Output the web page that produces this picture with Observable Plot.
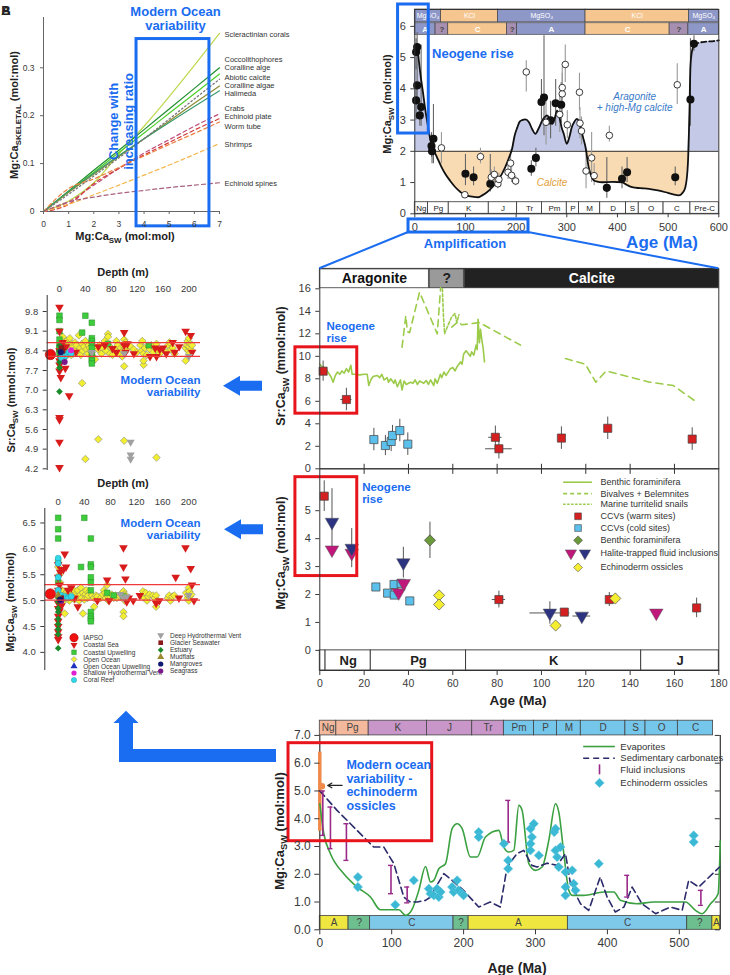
<!DOCTYPE html>
<html><head><meta charset="utf-8">
<script src="https://cdn.jsdelivr.net/npm/d3@7"></script>
<script src="https://cdn.jsdelivr.net/npm/@observablehq/plot@0.6"></script>
<style>
body{margin:0;background:#fff;}
#page{position:relative;width:730px;height:975px;overflow:hidden;font-family:"Liberation Sans",Arial,Helvetica,sans-serif;}
</style></head><body><div id="page"></div>
<script>
const BLUE="#1a6cf0", RED="#e8141b", FONT="Liberation Sans, Arial, Helvetica, sans-serif";
const page=document.getElementById("page");
function place(svg,l,t){svg.style.position="absolute";svg.style.left=l+"px";svg.style.top=t+"px";svg.style.overflow="visible";svg.style.background="transparent";svg.style.fontFamily=FONT;svg.style.color="#3a3a3a";svg.style.maxWidth="none";page.appendChild(svg);}
const triDown={draw(ctx,size){const y=-Math.sqrt(size/(Math.sqrt(3)*3));ctx.moveTo(0,-y*2);ctx.lineTo(-Math.sqrt(3)*y,y);ctx.lineTo(Math.sqrt(3)*y,y);ctx.closePath();}};
const intFmt=d=>String(d);

// ---------------- Panel A data ----------------
const aXs=[0,1,2,3,4,5,6,7];
const aNames=["Scleractinian corals","Coccolithophores","Coralline alge","Abiotic calcite","Coralline algae","Halimeda","Crabs","Echinoid plate","Worm tube","Shrimps","Echinoid spines"];
const aColors=["#bcd84c","#1f8f2e","#4ccf2a","#777777","#8f8a35","#3b9a6e","#c0507a","#d23a3a","#ea8040","#f2b64a","#a8607e"];
const aDash=["solid","solid","solid","dot","solid","solid","dash","dash","dash","dash","dash"];
const aValues=[
 [0,0.022,0.06,0.12,0.178,0.24,0.305,0.372],
 [0,0.043,0.086,0.128,0.171,0.214,0.257,0.300],
 [0,0.041,0.082,0.123,0.164,0.205,0.246,0.287],
 [0,0.036,0.074,0.112,0.152,0.193,0.235,0.276],
 [0,0.040,0.078,0.115,0.152,0.189,0.226,0.262],
 [0,0.042,0.080,0.117,0.152,0.186,0.219,0.252],
 [0,0.020,0.055,0.090,0.122,0.150,0.178,0.204],
 [0,0.015,0.058,0.090,0.118,0.144,0.170,0.194],
 [0,0.048,0.068,0.092,0.116,0.140,0.163,0.187],
 [0,0.015,0.035,0.055,0.076,0.097,0.119,0.142],
 [0,0.020,0.030,0.038,0.044,0.050,0.055,0.060]];
const aLabelY=[0.37,0.317,0.30,0.28,0.263,0.246,0.215,0.198,0.177,0.14,0.058];
const aYTicks=[0,0.1,0.2,0.3];

// ---------------- Panel B data ----------------
const saltStart=[0,52,164,337,541], saltEnd=[52,164,337,541,600], saltLabel=["MgSO₄","KCl","MgSO₄","KCl","MgSO₄"];
const minStart=[0,41,66,182,202,337,503,540], minEnd=[41,66,182,202,337,503,540,600], minLabel=["A","?","C","?","A","C","?","A"];
const perStart=[0,26,67,146,202,251,300,324,366,417,442,491,544], perEnd=[26,67,146,202,251,300,324,366,417,442,491,544,600];
const perLabel=["Ng","Pg","K","J","Tr","Pm","P","M","D","S","O","C","Pre-C"];
const bCurve=[[0,5.23],[2.5,5.34],[5,5.3],[8,4.9],[11,4.48],[16,3.9],[21,3.3],[26,2.8],[31,2.35],[37,2.05],[44,1.8],[52,1.52],[60,1.28],[70,1.05],[80,0.85],[90,0.7],[100,0.59],[113,0.55],[126,0.53],[133,0.59],[143,0.7],[153,0.85],[163,1.05],[172,1.28],[180,1.55],[186,1.8],[192,2.08],[197,2.5],[202,2.75],[207,2.95],[212,3.0],[218,3.02],[225,2.94],[232,2.7],[238,2.56],[245,2.75],[252,3.0],[258,3.12],[261,3.15],[266,3.05],[271,2.88],[276,3.05],[281,3.3],[286,3.05],[290,2.75],[294,2.56],[300,2.24],[305,2.45],[310,2.78],[315,2.95],[320,3.04],[324,2.95],[327,2.78],[332,2.45],[337,2.13],[343,1.5],[348,1.22],[353,1.07],[360,1.03],[370,1.01],[390,1.02],[409,1.01],[418,0.93],[429,0.85],[445,0.82],[462,0.8],[480,0.75],[495,0.69],[510,0.62],[521,0.59],[528,0.66],[534,0.85],[539,1.6],[542,3.2],[544,4.7],[547,5.2],[551,5.39]];
const bCurveDash=[[551,5.39],[560,5.47],[575,5.51],[590,5.53],[600,5.55]];
const bFilled=[[2.6,5.18,4.6,5.6],[4.6,5.34,4.8,5.8],[4.6,4.11,3.5,4.8],[2.6,3.63,3.0,4.2],[12.5,3.42,2.8,5.4],[9.9,3.15,2.8,3.6],[36.8,2.4,1.6,3.5],[33,2.17,1.8,2.6],[34,2.0,1.6,2.4],[100,1.28,0.9,1.9],[116,1.17,0.9,1.5],[149,0.96,0.7,1.9],[230,1.44,1.2,1.7],[239,1.79,1.5,2.1],[250,3.58,3.0,4.3],[255,3.72,2.5,5.7],[268,2.99,2.4,3.6],[278,3.54,2.8,4.3],[289,3.49,2.9,4.2],[379,0.83,0.5,1.8],[409,1.12,0.8,1.5],[419,1.33,1.0,1.8],[514,1.17,0.9,1.5],[544,3.66,2.8,5.6],[551,5.44,5.2,5.7]];
const bOpen=[[52.6,2.11,1.6,2.6],[98.7,0.61,0.5,0.7],[129.6,1.83,1.6,2.1],[151,1.17,0.9,1.4],[157,1.26,1.0,1.5],[164,0.96,0.8,1.2],[166,1.1,0.9,1.3],[184,1.33,1.1,1.6],[189,1.62,1.3,1.9],[191,1.23,1.0,1.5],[199,1.05,0.9,1.2],[220,4.54,3.9,4.9],[259,2.93,2.2,3.6],[286,3.18,2.6,3.8],[291,3.84,3.2,4.5],[291,4.04,3.4,4.7],[297,4.78,4.2,5.4],[301,2.85,2.4,3.3],[325,3.89,3.3,4.5],[326,2.9,2.4,3.4],[329,2.65,2.2,3.1],[349,1.79,1.0,2.6],[354,1.22,0.9,1.6],[338,1.37,0.8,1.9],[384,2.51,2.3,2.8],[518,4.13,3.5,4.8]];

// ---------------- Middle panels data ----------------
const midStart=[0,49.6,65.4], midEnd=[49.2,65,180], midLabel=["Aragonite","?","Calcite"];
const midPerStart=[0,2.6,23,66,145], midPerEnd=[2.6,23,66,145,180], midPerLabel=["","Ng","Pg","K","J"];
const srBenthic=[[0,9.3],[1,9.1],[2,9.0],[3,8.8],[4,8.5],[5,8.2],[6,7.7],[7,8.3],[8,8.6],[9,8.4],[10,8.7],[11,8.5],[12,8.9],[13,8.6],[14,9.2],[14.6,8.4],[16,8.4],[18,8.35],[20,8.4],[21.4,8.4],[22.1,7.4],[23,7.9],[24,8.2],[25.9,8.3],[27,8.1],[28,8.4],[29,7.9],[30.4,8.1],[31,7.7],[32,8.0],[33.4,7.6],[34,7.9],[35,7.3],[36.4,7.9],[37.1,7.0],[38,7.8],[39,7.5],[40.9,7.7],[42,7.6],[43,7.9],[44,7.5],[45,7.8],[46.9,7.6],[48,7.85],[49,7.5],[50,7.9],[51.4,7.4],[52,8.0],[53,7.6],[54.4,8.4],[55,8.1],[56,8.6],[57,8.3],[58.9,8.9],[60,9.0],[61,8.7],[62,9.1],[63.5,9.5],[64.2,9.3],[64.9,10.2],[66,10.5],[67.9,10.0],[68.5,10.4],[69.5,10.1],[70.5,11.0],[71,10.6],[71.4,13.3],[72,11.2],[72.5,12.4],[73,11.6],[73.7,10.7],[74.3,9.5]];
const srBivalves=[[37.1,10.8,1],[38.8,13.6,1],[39.5,12.2,1],[40.5,12.1,1],[45,15.7,1],[53,12.0,1],[54.5,16.1,1],[59.5,12.6,2],[62.5,13.1,2],[64,12.8,2],[72,13.0,2],[90.5,11.0,2],[110.8,9.8,3],[119.8,9.3,3],[124.5,7.7,3],[129.2,8.7,3],[149,7.7,3],[159.5,7.4,3],[170.2,5.9,3]];
const srTurritelid=[[55.3,16.0],[55.8,13.5],[56.3,12.0],[57.5,12.6],[59.5,13.5],[61,13.8],[61.8,13.0],[62.8,13.7]];
const srWarm=[[1.5,8.68,0,0.9],[12,6.16,2.5,1.0],[79.2,2.8,3,1.0],[80.8,1.78,6,0.9],[109,2.73,0,1.0],[129.9,3.6,0,1.0],[168,2.64,0,1.0]];
const srCold=[[24.4,2.6,0,1.0],[29.6,2.07,0,0.9],[32.2,2.43,0,0.9],[32.8,2.96,0,0.9],[36.1,3.4,0,1.0],[39.7,2.19,0,1.0]];
const mgWarm=[[2.0,5.52,0,0.55],[80.8,1.82,3,0.3],[110.3,1.37,0,0.1],[130.6,1.82,0,0.25],[170,1.52,0,0.35]];
const mgCold=[[25.3,2.27],[30.6,2.05],[33.5,2.36],[33.6,1.98],[36.7,2.4],[40.6,1.77]];
const mgBenthic=[[49.7,3.94,0.65]];
const mgHaliteM=[[5.5,3.6],[14.4,3.48],[35.6,2.07],[37.9,2.4],[151.8,1.34]];
const mgHaliteN=[[5.5,4.59,1.2,0],[14.4,3.66,0.7,0],[37.7,3.14,0.55,0],[103.8,1.34,0.4,9],[118.2,1.23,0,4]];
const mgEchino=[[53.8,1.97],[53.8,1.64],[106.4,0.89],[133.3,1.86]];
const legLabels=["Benthic foraminifera","Bivalves + Belemnites","Marine turritelid snails","CCVs (warm sites)","CCVs (cold sites)","Benthic foraminifera","Halite-trapped fluid inclusions","Echinoderm ossicles"];
const legY=[6.02,5.61,5.23,4.80,4.38,3.94,3.48,2.97];

// ---------------- Depth panels data ----------------
const srTicksL=[4.2,4.9,5.6,6.3,7.0,7.7,8.4,9.1,9.8];
const mgTicksL=[4.0,4.5,5.0,5.5,6.0,6.5];
const depthTicks=[0,40,80,120,160,200];
const srOpenOcean=[[2,8.6],[3,8.45],[4,8.3],[5,8.9],[6,8.5],[7,8.7],[8,8.35],[9,8.55],[10,8.2],[11,8.75],[12,8.4],[13,8.6],[14,8.3],[15,8.5],[16,8.85],[17,8.45],[18,8.25],[19,8.65],[20,8.4],[21,8.55],[22,8.3],[24,8.7],[25,8.45],[26,8.6],[28,8.35],[30,8.95],[32,8.5],[33,8.25],[35,8.65],[36,8.4],[38,8.55],[40,8.75],[42,8.45],[44,8.3],[45,8.6],[47,8.5],[48,8.4],[50,8.35],[52,8.2],[55,8.1],[58,8.5],[60,8.45],[62,8.6],[65,8.3],[68,8.5],[70,8.75],[72,8.4],[75,9.0],[75,8.9],[76,8.6],[78,8.3],[80,8.5],[82,8.25],[85,8.45],[88,8.75],[90,8.6],[92,8.3],[95,8.5],[97,8.2],[98,8.4],[100,8.8],[100,8.55],[101,8.35],[102,8.7],[103,8.45],[105,8.6],[110,8.55],[115,8.45],[120,8.35],[125,8.6],[127,8.4],[128,8.75],[130,8.3],[132,8.5],[135,8.25],[138,8.55],[140,8.45],[142,8.6],[145,8.35],[148,8.5],[150,8.65],[152,8.4],[155,8.3],[165,8.35],[168,8.6],[170,8.7],[172,8.45],[175,8.5],[178,8.3],[195,8.5],[197,8.6],[198,8.75],[199,8.4],[200,8.85],[200,8.55],[201,8.3],[202,8.65],[203,8.45],[205,8.6],[35,7.25],[60,5.25],[40,4.55],[100,5.2],[150,4.6],[100,7.85],[130,7.9],[195,8.05],[130,8.05]];
const srCoastalSea=[[0,9.95],[0,9.1],[0,8.4],[0,8.05],[0,7.9],[0,7.68],[2,7.45],[0,6.03],[0,5.95],[0,5.15],[0,4.25],[9,7.78],[15,6.8],[5,8.7],[10,8.55],[25,8.35],[60,8.55],[70,8.6],[82,8.48],[88,8.35],[100,9.05],[100,8.6],[102,8.35],[105,8.65],[115,8.3],[140,8.2],[148,8.5],[155,8.45],[165,8.3],[175,8.7],[178,8.35],[185,8.55],[195,9.1],[203,8.95],[205,8.35],[150,8.2],[160,8.5]];
const srCoastalUp=[[0,9.65],[0,9.5],[0,9.1],[0,8.8],[0,8.6],[40,9.65],[35,9.05],[50,9.4],[50,8.85],[50,8.75],[50,8.65],[50,8.5],[50,8.3],[50,8.15],[50,8.05],[50,7.95],[75,8.65],[138,8.6],[0,8.45],[0,8.3]];
const srCoral=[[5,8.25],[8,8.2],[12,8.3],[15,8.35],[18,8.3],[3,8.15]];
const srEstuary=[[0,8.6],[0,8.4],[0,8.2],[0,8.0],[0,7.8],[0,6.95]];
const srGlacier=[[5,8.4],[3,8.5]];
const srShallow=[[18,8.42]];
const srSeagrass=[[8,8.0]];
const srDeep=[[110,5.15],[110,4.7],[110,4.55],[50,8.35],[100,8.3],[200,8.2]];
const srMangrove=[[2,8.35]];
const srIAPSO=[[-14,8.27]];
const mgOpenOcean=[[3,5.15],[5,5.05],[6,5.2],[8,5.1],[9,5.0],[10,5.12],[12,5.05],[14,5.18],[15,5.08],[17,5.0],[18,5.15],[20,5.1],[22,5.05],[24,5.2],[25,5.02],[27,5.12],[28,5.08],[30,5.2],[32,5.0],[33,5.1],[35,5.25],[36,5.05],[38,5.15],[40,5.02],[42,5.12],[43,5.2],[45,5.05],[46,5.1],[48,5.18],[52,5.1],[55,5.05],[58,5.1],[60,5.08],[65,5.05],[68,5.12],[70,5.2],[72,5.15],[73,5.05],[75,5.3],[75,5.1],[77,5.0],[80,5.08],[82,5.12],[85,5.05],[88,5.1],[90,5.05],[95,5.08],[98,5.15],[100,5.18],[100,5.05],[101,5.12],[102,5.0],[104,5.1],[128,5.1],[130,5.18],[132,5.05],[134,5.15],[136,5.0],[138,5.08],[140,5.12],[145,5.1],[148,5.05],[150,5.1],[152,5.0],[168,5.05],[170,5.1],[172,5.0],[175,5.08],[178,5.1],[196,5.15],[198,5.05],[199,5.1],[200,5.25],[200,5.0],[201,5.18],[202,5.08],[204,5.12],[10,4.75],[38,4.75],[55,4.88],[100,4.78],[100,4.7],[150,4.88],[2,5.5],[3,5.35],[0,5.65]];
const mgCoastalSea=[[0,5.7],[5,5.6],[8,5.6],[10,5.9],[12,5.65],[3,5.55],[0,5.45],[2,5.3],[0,5.2],[0,4.95],[0,4.85],[0,4.7],[0,4.6],[0,4.5],[0,4.4],[0,4.3],[0,4.25],[2,4.8],[5,4.9],[15,5.2],[20,5.25],[25,5.05],[30,4.88],[75,5.4],[78,5.0],[100,6.02],[100,5.65],[103,5.42],[105,4.98],[108,5.05],[115,5.0],[150,4.95],[155,5.0],[180,5.45],[195,6.02],[203,5.62],[205,5.3],[208,5.0],[185,5.05],[60,5.0],[125,5.1]];
const mgCoastalUp=[[0,6.6],[0,6.38],[0,6.2],[40,6.6],[50,6.2],[35,5.65],[50,5.7],[50,5.65],[50,5.45],[50,5.35],[50,5.2],[50,4.78],[50,4.7],[50,4.65],[50,4.6],[0,5.75],[0,5.35],[100,5.08],[85,5.1],[75,5.15]];
const mgCoral=[[0,5.82],[0,5.72],[0,5.45],[0,5.2],[5,5.1],[10,5.08],[15,5.05],[20,5.08]];
const mgEstuary=[[0,4.85],[0,4.78],[0,4.65],[0,4.55],[0,4.45],[0,4.35],[0,4.08],[0,4.98],[0,5.05]];
const mgGlacier=[[5,5.05],[3,5.0]];
const mgDeep=[[100,5.05],[105,5.08],[200,5.1],[95,5.12]];
const mgMudflat=[[0,5.1]];
const mgMangrove=[[3,5.02]];
const mgSeagrass=[[5,5.0]];
const mgIAPSO=[[-12,5.13]];
const legLeftA=["IAPSO","Coastal Sea","Coastal Upwelling","Open Ocean","Open Ocean Upwelling","Shallow Hydrothermal Vent","Coral Reef"];
const legLeftB=["Deep Hydrothermal Vent","Glacier Seawater","Estuary","Mudflats","Mangroves","Seagrass"];

// ---------------- Bottom panel data ----------------
const botPerStart=[0,23,68,149,212,256,298,330,363,425,453,498], botPerEnd=[23,68,149,212,256,298,330,363,425,453,498,547];
const botPerLabel=["Ng","Pg","K","J","Tr","Pm","P","M","D","S","O","C"];
const botPerColor=["#f4b99c","#f4b99c","#c896c8","#c896c8","#c896c8","#74c6ea","#74c6ea","#74c6ea","#74c6ea","#74c6ea","#74c6ea","#74c6ea"];
const botMinStart=[0,40,70,186,207,345,511,546], botMinEnd=[40,70,186,207,345,511,546,557], botMinLabel=["A","?","C","?","A","C","?","A"];
const evaporites=[[0,4.54],[5.6,3.46],[14.8,2.74],[33.4,2.02],[51.9,1.54],[70.5,1.18],[84.4,0.72],[98.3,0.72],[110,0.72],[119,0.52],[128,0.72],[137.7,1.42],[147,2.28],[154,1.72],[158.6,1.78],[165.5,2.2],[174.8,2.38],[184,3.64],[191,3.82],[198,3.64],[209.5,2.62],[218.8,2.62],[230.4,3.34],[249,3.58],[256,2.98],[262.9,2.8],[269.8,2.86],[276.8,4.48],[281.4,4.3],[290.7,2.38],[300,2.14],[309.2,2.26],[318.5,3.22],[327.8,4.54],[332.4,4.24],[339.4,2.74],[346.3,1.42],[351,1.24],[367,1.24],[395,1.36],[409,1.36],[418,1.06],[441,0.94],[464.5,1.0],[487.7,1.0],[508.6,1.0],[522.5,0.7],[531.7,0.58],[543.4,0.94],[554,1.3],[557,3.2]];
const sedCarb=[[0,5.0],[5.6,4.84],[24,4.3],[42.6,3.82],[61,3.34],[75,2.98],[89,2.98],[103,2.38],[116.8,1.18],[126,1.0],[135.4,1.0],[147,1.06],[154,1.18],[158.6,1.42],[172.5,2.02],[184,1.78],[200,1.42],[221,0.82],[237,1.0],[251,0.82],[260.5,2.26],[274,2.74],[283.7,2.86],[295,2.32],[302,2.26],[316,2.4],[330,2.32],[341.7,2.74],[348.6,1.66],[362.5,0.94],[374,0.7],[390,1.9],[399.6,1.18],[411,0.64],[423,0.82],[434.4,1.54],[448,0.94],[467,0.58],[487.7,0.82],[504,0.7],[513,1.78],[527,1.54],[556,2.26]];
const fluidIncl=[[4.2,3.4,5.0],[14.8,2.92,4.42],[37,2.5,3.82],[99,1.3,2.32],[121.5,0.97,1.54],[262,3.16,4.66],[427.5,1.18,1.96],[530,0.88,1.42]];
const echinoOss=[[53,1.9],[53,1.54],[105,0.9],[130.7,1.78],[151.6,1.48],[154,1.3],[158.6,1.24],[163,1.48],[165.5,1.18],[168,1.36],[184,1.54],[186,1.36],[191,1.78],[193,1.42],[198,1.3],[200,1.24],[221,3.52],[221,3.34],[256,3.1],[262,2.5],[262,2.2],[293,3.64],[295,3.34],[293,3.1],[297.6,3.82],[293,2.86],[304.6,2.68],[326,3.52],[327.8,2.86],[330,2.62],[332.4,2.26],[334.7,2.98],[341.7,2.08],[341.7,1.54],[341.7,1.24],[351,2.14],[353,1.66],[355.6,1.42],[388,2.38],[520,3.4],[520,3.16],[327.8,3.64]];
const botLegLabels=["Evaporites","Sedimentary carbonates","Fluid inclusions","Echinoderm ossicles"];
const botLegY=[6.60,6.18,5.76,5.29];

// ================= Panel A =================
const aRows=aNames.flatMap((n,i)=>aXs.map((x,j)=>({name:n,x,y:aValues[i][j],color:aColors[i],dash:aDash[i]})));
place(Plot.plot({width:365,height:250,marginLeft:43,marginRight:146,marginTop:17,marginBottom:39,
 x:{domain:[0,7]},y:{domain:[0,0.405]},color:{type:"identity"},
 marks:[
  Plot.ruleX([0],{stroke:"#666"}),Plot.ruleY([0],{stroke:"#666"}),
  Plot.line(aRows.filter(d=>d.dash==="solid"),{x:"x",y:"y",z:"name",stroke:"color",strokeWidth:1.2,curve:"monotone-x"}),
  Plot.line(aRows.filter(d=>d.dash==="dash"),{x:"x",y:"y",z:"name",stroke:"color",strokeWidth:1.2,strokeDasharray:"4,3",curve:"monotone-x"}),
  Plot.line(aRows.filter(d=>d.dash==="dot"),{x:"x",y:"y",z:"name",stroke:"color",strokeWidth:1.3,strokeDasharray:"1.5,2.5",curve:"monotone-x"}),
  Plot.text(aNames,{x:7,y:(d,i)=>aLabelY[i],text:d=>d,dx:5,textAnchor:"start",fontSize:7.5,fill:"#333"}),
  Plot.rect([0],{x1:3.7,x2:6.6,y1:-0.031,y2:0.36,fill:"none",stroke:BLUE,strokeWidth:3}),
  Plot.text(["Modern Ocean\nvariability"],{x:5.25,y:0.402,text:d=>d,fontSize:13,fontWeight:"bold",fill:BLUE,lineHeight:1.05}),
  Plot.text(["Change with\nincreasing ratio"],{x:3.08,y:0.188,text:d=>d,rotate:-90,fontSize:13,fontWeight:"bold",fill:BLUE,lineHeight:1.15}),
  Plot.axisX({ticks:aXs,tickFormat:intFmt,tickSize:3,fontSize:8.5,label:null,stroke:"#666"}),
  Plot.axisY({ticks:aYTicks,tickSize:3,fontSize:8.5,label:null,tickFormat:d=>d===0?"0":d.toFixed(1),stroke:"#666"})
 ]}),0,0);

// ================= Panel B =================
const saltColor=l=>l==="KCl"?"#f6c690":"#8e98c8";
const minColor=l=>l==="C"?"#f6c690":l==="A"?"#8e98c8":"#a68fb0";
const bAll=bCurve.concat(bCurveDash.slice(1));
place(Plot.plot({width:365,height:250,marginLeft:49.3,marginRight:11.7,marginTop:9,marginBottom:36.7,
 x:{domain:[0,600]},y:{domain:[0,6.54]},
 marks:[
  Plot.areaY(bAll,{x:d=>d[0],y1:2,y2:d=>Math.max(d[1],2),fill:"#c3c9e6"}),
  Plot.areaY(bAll,{x:d=>d[0],y1:d=>Math.min(d[1],2),y2:2,fill:"#f9dbb3"}),
  Plot.ruleY([2],{stroke:"#333",strokeWidth:1}),
  Plot.rect(saltLabel,{x1:(d,i)=>saltStart[i],x2:(d,i)=>saltEnd[i],y1:6.13,y2:6.54,fill:d=>saltColor(d),stroke:"#444",strokeWidth:0.7}),
  Plot.text(saltLabel,{x:(d,i)=>(saltStart[i]+saltEnd[i])/2,y:6.335,text:d=>d,fill:"white",fontSize:7}),
  Plot.rect(minLabel,{x1:(d,i)=>minStart[i],x2:(d,i)=>minEnd[i],y1:5.73,y2:6.10,fill:d=>minColor(d),stroke:"#444",strokeWidth:0.7}),
  Plot.text(minLabel,{x:(d,i)=>(minStart[i]+minEnd[i])/2,y:5.915,text:d=>d,fill:d=>d==="?"?"#444":"white",fontSize:8,fontWeight:"bold"}),
  Plot.rect(perLabel,{x1:(d,i)=>perStart[i],x2:(d,i)=>perEnd[i],y1:0,y2:0.37,fill:"white",stroke:"#333",strokeWidth:0.8}),
  Plot.text(perLabel,{x:(d,i)=>(perStart[i]+perEnd[i])/2,y:0.185,text:d=>d,fontSize:8,fill:"#222"}),
  Plot.ruleX(bFilled,{x:d=>d[0],y1:d=>d[2],y2:d=>d[3],stroke:"#666",strokeWidth:1.1}),
  Plot.ruleX(bOpen,{x:d=>d[0],y1:d=>d[2],y2:d=>d[3],stroke:"#999",strokeWidth:1.1}),
  Plot.line(bCurve,{x:d=>d[0],y:d=>d[1],stroke:"#111",strokeWidth:1.8,curve:"monotone-x"}),
  Plot.line(bCurveDash,{x:d=>d[0],y:d=>d[1],stroke:"#111",strokeWidth:1.8,strokeDasharray:"5,3",curve:"monotone-x"}),
  Plot.dot(bFilled,{x:d=>d[0],y:d=>d[1],r:3.3,fill:"#111",stroke:"#111"}),
  Plot.dot(bOpen,{x:d=>d[0],y:d=>d[1],r:3.3,fill:"white",stroke:"#222",strokeWidth:0.9}),
  Plot.text(["Neogene rise"],{x:34,y:5.12,text:d=>d,textAnchor:"start",fontSize:13,fontWeight:"bold",fill:BLUE}),
  Plot.text(["Aragonite\n+ high-Mg calcite"],{x:434,y:3.58,text:d=>d,fontSize:10,fontStyle:"italic",fill:"#3a7ac8",lineHeight:1.05}),
  Plot.text(["Calcite"],{x:271,y:1.0,text:d=>d,fontSize:10,fontStyle:"italic",fill:"#e2a03a"}),
  Plot.frame({stroke:"#333"}),
  Plot.axisY({ticks:[0,1,2,3,4,5,6],tickFormat:intFmt,tickSize:4,fontSize:11,label:null}),
  Plot.axisX({ticks:[0,100,200,300,400,500,600],tickFormat:intFmt,tickSize:4,fontSize:11,label:null}),
  Plot.rect([0],{x1:-33,x2:27.6,y1:2.57,y2:6.70,fill:"none",stroke:BLUE,strokeWidth:3}),
  Plot.rect([0],{x1:-12.4,x2:224.4,y1:-0.18,y2:-0.6,fill:"none",stroke:BLUE,strokeWidth:3})
 ]}),365,0);

// ================= Middle Sr panel =================
const srTicksMid=[0,2,4,6,8,10,12,14,16];
const xTicksMid=[20,40,60,80,100,120,140,160];
const greenL="#9ccb4a";
place(Plot.plot({width:460,height:215,marginLeft:49.3,marginRight:11.7,marginTop:13.3,marginBottom:1.7,
 x:{domain:[0,180],axis:null},y:{domain:[0,17.78]},
 marks:[
  Plot.rect(midLabel,{x1:(d,i)=>midStart[i],x2:(d,i)=>midEnd[i],y1:16.05,y2:17.78,fill:(d,i)=>["white","#9a9a9a","#222"][i],stroke:"#333",strokeWidth:0.8}),
  Plot.text(midLabel,{x:(d,i)=>(midStart[i]+midEnd[i])/2,y:16.9,text:d=>d,fill:(d,i)=>["#111","#222","white"][i],fontSize:14,fontWeight:"bold"}),
  Plot.ruleX(xTicksMid,{y1:0,y2:0.4,stroke:"#333"}),
  Plot.line(srBenthic,{x:d=>d[0],y:d=>d[1],stroke:greenL,strokeWidth:1.6}),
  Plot.line(srBivalves,{x:d=>d[0],y:d=>d[1],z:d=>d[2],stroke:greenL,strokeWidth:1.6,strokeDasharray:"7,5"}),
  Plot.line(srTurritelid,{x:d=>d[0],y:d=>d[1],stroke:greenL,strokeWidth:1.6,strokeDasharray:"3,2"}),
  Plot.ruleX(srWarm.concat(srCold),{x:d=>d[0],y1:d=>d[1]-d[3],y2:d=>d[1]+d[3],stroke:"#555"}),
  Plot.ruleY(srWarm.filter(d=>d[2]>0),{y:d=>d[1],x1:d=>d[0]-d[2],x2:d=>d[0]+d[2],stroke:"#555"}),
  Plot.dot(srWarm,{x:d=>d[0],y:d=>d[1],symbol:"square",r:4.6,fill:"#d42020",stroke:"#444",strokeWidth:0.7}),
  Plot.dot(srCold,{x:d=>d[0],y:d=>d[1],symbol:"square",r:4.6,fill:"#5cc0ec",stroke:"#444",strokeWidth:0.7}),
  Plot.rect([0],{x1:-11,x2:16.9,y1:4.9,y2:10.8,fill:"none",stroke:RED,strokeWidth:3}),
  Plot.text(["Neogene\nrise"],{x:3,y:12.15,text:d=>d,textAnchor:"start",fontSize:11.5,fontWeight:"bold",fill:BLUE,lineHeight:1.1}),
  Plot.frame({stroke:"#333"}),
  Plot.axisY({ticks:srTicksMid,tickFormat:intFmt,tickSize:4,fontSize:11,label:null})
 ]}),270,255);

// ================= Middle Mg panel =================
const mgTicksMid=[0,1,2,3,4,5];
const xTicksMidAll=[0,20,40,60,80,100,120,140,160,180];
const MAG="#c0187a", NAVY="#2c3380";
place(Plot.plot({width:460,height:250,marginLeft:49.3,marginRight:11.7,marginTop:3.3,marginBottom:45,
 x:{domain:[0,180]},y:{domain:[-0.72,6.5]},
 marks:[
  Plot.rect(midPerLabel,{x1:(d,i)=>midPerStart[i],x2:(d,i)=>midPerEnd[i],y1:-0.72,y2:0,fill:"white",stroke:"#333",strokeWidth:0.9}),
  Plot.text(midPerLabel,{x:(d,i)=>(midPerStart[i]+midPerEnd[i])/2,y:-0.36,text:d=>d,fontSize:13,fontWeight:"bold",fill:"#222"}),
  Plot.ruleX(xTicksMid,{y1:6.5,y2:6.3,stroke:"#333"}),
  Plot.ruleX(mgWarm,{x:d=>d[0],y1:d=>d[1]-d[3],y2:d=>d[1]+d[3],stroke:"#555"}),
  Plot.ruleY(mgWarm.filter(d=>d[2]>0),{y:d=>d[1],x1:d=>d[0]-d[2],x2:d=>d[0]+d[2],stroke:"#555"}),
  Plot.ruleX(mgBenthic,{x:d=>d[0],y1:d=>d[1]-d[2],y2:d=>d[1]+d[2],stroke:"#555"}),
  Plot.ruleX(mgHaliteN.filter(d=>d[2]>0),{x:d=>d[0],y1:d=>d[1]-d[2],y2:d=>d[1]+d[2],stroke:"#555"}),
  Plot.ruleY(mgHaliteN.filter(d=>d[3]>0),{y:d=>d[1],x1:d=>d[0]-d[3],x2:d=>d[0]+d[3],stroke:"#555"}),
  Plot.dot(mgCold,{x:d=>d[0],y:d=>d[1],symbol:"square",r:4.6,fill:"#5cc0ec",stroke:"#444",strokeWidth:0.7}),
  Plot.dot(mgWarm,{x:d=>d[0],y:d=>d[1],symbol:"square",r:4.6,fill:"#d42020",stroke:"#444",strokeWidth:0.7}),
  Plot.dot(mgBenthic,{x:d=>d[0],y:d=>d[1],symbol:"diamond2",r:5,fill:"#6a9a3a",stroke:"#444",strokeWidth:0.7}),
  Plot.dot(mgEchino,{x:d=>d[0],y:d=>d[1],symbol:"diamond2",r:5,fill:"#f5ee30",stroke:"#555",strokeWidth:0.7}),
  Plot.dot(mgHaliteM,{x:d=>d[0],y:d=>d[1],symbol:triDown,r:5,fill:MAG,stroke:"#555",strokeWidth:0.5}),
  Plot.dot(mgHaliteN,{x:d=>d[0],y:d=>d[1],symbol:triDown,r:5,fill:NAVY,stroke:"#555",strokeWidth:0.5}),
  Plot.ruleY([legY[0]],{x1:110,x2:123,stroke:greenL,strokeWidth:1.6}),
  Plot.ruleY([legY[1]],{x1:110,x2:123,stroke:greenL,strokeWidth:1.6,strokeDasharray:"4,3"}),
  Plot.ruleY([legY[2]],{x1:110,x2:123,stroke:greenL,strokeWidth:1.6,strokeDasharray:"2.5,1.5"}),
  Plot.dot([legY[3]],{x:116.5,y:d=>d,symbol:"square",r:3.8,fill:"#d42020",stroke:"#444",strokeWidth:0.6}),
  Plot.dot([legY[4]],{x:116.5,y:d=>d,symbol:"square",r:3.8,fill:"#5cc0ec",stroke:"#444",strokeWidth:0.6}),
  Plot.dot([legY[5]],{x:116.5,y:d=>d,symbol:"diamond2",r:4,fill:"#6a9a3a",stroke:"#444",strokeWidth:0.6}),
  Plot.dot([legY[6]],{x:113.3,y:d=>d,symbol:triDown,r:4.2,fill:MAG,stroke:"#555",strokeWidth:0.5}),
  Plot.dot([legY[6]],{x:119.6,y:d=>d,symbol:triDown,r:4.2,fill:NAVY,stroke:"#555",strokeWidth:0.5}),
  Plot.dot([legY[7]],{x:116.5,y:d=>d,symbol:"diamond2",r:4,fill:"#f5ee30",stroke:"#555",strokeWidth:0.6}),
  Plot.text(legLabels,{x:126.6,y:(d,i)=>legY[i],text:d=>d,textAnchor:"start",fontSize:9,fill:"#333"}),
  Plot.rect([0],{x1:-11,x2:16.9,y1:2.66,y2:6.2,fill:"none",stroke:RED,strokeWidth:3}),
  Plot.text(["Neogene\nrise"],{x:19.1,y:5.64,text:d=>d,textAnchor:"start",fontSize:11.5,fontWeight:"bold",fill:BLUE,lineHeight:1.1}),
  Plot.frame({stroke:"#333"}),
  Plot.axisY({ticks:mgTicksMid,tickFormat:intFmt,tickSize:4,fontSize:11,label:null}),
  Plot.axisX({ticks:xTicksMidAll,tickFormat:intFmt,tickSize:5,fontSize:10.5,label:null})
 ]}),270,465);

// ================= Depth panels =================
const cats=[
 {k:"open",color:"#f2ee30",symbol:"diamond2",r:3.4,stroke:"#777"},
 {k:"sea",color:"#d81c1c",symbol:triDown,r:3.2,stroke:"none"},
 {k:"up",color:"#3ccc3c",symbol:"square",r:3.2,stroke:"#2a8a2a"},
 {k:"coral",color:"#30d8e8",symbol:"circle",r:3,stroke:"#1a9ab0"},
 {k:"estuary",color:"#1a8a2a",symbol:"diamond2",r:3,stroke:"none"},
 {k:"glacier",color:"#8b1a1a",symbol:"square",r:3,stroke:"none"},
 {k:"shallow",color:"#e020d0",symbol:"circle",r:3,stroke:"none"},
 {k:"seagrass",color:"#7a1a8a",symbol:"circle",r:3,stroke:"none"},
 {k:"deep",color:"#a0a0a0",symbol:triDown,r:3,stroke:"none"},
 {k:"mangrove",color:"#101870",symbol:"circle",r:3,stroke:"none"},
 {k:"mud",color:"#9a8a30",symbol:"triangle",r:3,stroke:"none"},
 {k:"iapso",color:"#f01010",symbol:"circle",r:5.2,stroke:"#900"}];
const catBy=Object.fromEntries(cats.map(c=>[c.k,c]));
function dotsFor(data,k){const c=catBy[k];return Plot.dot(data,{x:d=>d[0],y:d=>d[1],symbol:c.symbol,r:c.r,fill:c.color,stroke:c.stroke,strokeWidth:0.5});}
place(Plot.plot({width:240,height:220,marginLeft:46.7,marginRight:40,marginTop:40,marginBottom:5,
 x:{domain:[-19,218]},y:{domain:[4.14,10.37]},
 marks:[
  dotsFor(srOpenOcean,"open"),dotsFor(srCoastalUp,"up"),dotsFor(srCoastalSea,"sea"),dotsFor(srDeep,"deep"),dotsFor(srEstuary,"estuary"),
  dotsFor(srCoral,"coral"),dotsFor(srGlacier,"glacier"),dotsFor(srShallow,"shallow"),dotsFor(srSeagrass,"seagrass"),dotsFor(srMangrove,"mangrove"),dotsFor(srIAPSO,"iapso"),
  Plot.ruleY([8.69,8.2],{stroke:"#f03a3a",strokeWidth:1.2}),
  Plot.ruleX([-19],{stroke:"#333"}),
  Plot.text(["Modern Ocean\nvariability"],{x:218,y:7.13,text:d=>d,textAnchor:"end",fontSize:11.5,fontWeight:"bold",fill:BLUE,lineHeight:1.05}),
  Plot.axisY({ticks:srTicksL,tickFormat:d=>d.toFixed(1),tickSize:4,fontSize:9.5,label:null}),
  Plot.axisX({anchor:"top",ticks:depthTicks,tickFormat:intFmt,tickSize:0,tickPadding:4,fontSize:9.5,label:null})
 ]}),0,255);
place(Plot.plot({width:240,height:250,marginLeft:44.3,marginRight:40,marginTop:38,marginBottom:50,
 x:{domain:[-20.5,218]},y:{domain:[3.65,6.78]},
 marks:[
  dotsFor(mgOpenOcean,"open"),dotsFor(mgCoastalUp,"up"),dotsFor(mgCoastalSea,"sea"),dotsFor(mgDeep,"deep"),dotsFor(mgEstuary,"estuary"),
  dotsFor(mgCoral,"coral"),dotsFor(mgGlacier,"glacier"),dotsFor(mgMudflat,"mud"),dotsFor(mgSeagrass,"seagrass"),dotsFor(mgMangrove,"mangrove"),dotsFor(mgIAPSO,"iapso"),
  Plot.ruleY([5.31,5.01],{stroke:"#f03a3a",strokeWidth:1.2}),
  Plot.ruleX([-20.5],{stroke:"#333"}),
  Plot.text(["Modern Ocean\nvariability"],{x:218,y:6.375,text:d=>d,textAnchor:"end",fontSize:11.5,fontWeight:"bold",fill:BLUE,lineHeight:1.05}),
  Plot.axisY({ticks:mgTicksL,tickFormat:d=>d.toFixed(1),tickSize:4,fontSize:9.5,label:null}),
  Plot.axisX({anchor:"top",ticks:depthTicks,tickFormat:intFmt,tickSize:0,tickPadding:4,fontSize:9.5,label:null})
 ]}),0,470);

// ================= Bottom panel =================
const botMinColor=l=>l==="A"?"#f0e640":l==="C"?"#7ec8ea":"#6dbf90";
const yTicksBot=[0,1,2,3,4,5,6,7];
place(Plot.plot({width:460,height:260,marginLeft:49.3,marginRight:10.2,marginTop:5.2,marginBottom:45.7,
 x:{domain:[0,557]},y:{domain:[0,7.53]},
 marks:[
  Plot.rect(botPerLabel,{x1:(d,i)=>botPerStart[i],x2:(d,i)=>botPerEnd[i],y1:7.0,y2:7.53,fill:(d,i)=>botPerColor[i],stroke:"#444",strokeWidth:0.8}),
  Plot.text(botPerLabel,{x:(d,i)=>(botPerStart[i]+botPerEnd[i])/2,y:7.265,text:d=>d,fontSize:10,fill:"#444"}),
  Plot.rect(botMinLabel,{x1:(d,i)=>botMinStart[i],x2:(d,i)=>botMinEnd[i],y1:0,y2:0.5,fill:d=>botMinColor(d),stroke:"#444",strokeWidth:0.8}),
  Plot.text(botMinLabel,{x:(d,i)=>(botMinStart[i]+botMinEnd[i])/2,y:0.25,text:d=>d,fontSize:10,fill:"#444"}),
  Plot.ruleX([0,557],{y1:0,y2:7,stroke:"#333",strokeWidth:1.2}),
  Plot.ruleY(yTicksBot,{x1:550,x2:557,stroke:"#333"}),
  Plot.ruleX([0],{y1:3.55,y2:6.4,stroke:"#f08a4a",strokeWidth:3.5}),
  Plot.line(evaporites,{x:d=>d[0],y:d=>d[1],stroke:"#3aa040",strokeWidth:1.6,curve:"monotone-x"}),
  Plot.line(sedCarb,{x:d=>d[0],y:d=>d[1],stroke:"#2b2b6b",strokeWidth:1.6,strokeDasharray:"7,4"}),
  Plot.ruleX(fluidIncl,{x:d=>d[0],y1:d=>d[1],y2:d=>d[2],stroke:"#9a2a8a",strokeWidth:1.6}),
  Plot.ruleY(fluidIncl,{y:d=>d[1],x1:d=>d[0]-3.5,x2:d=>d[0]+3.5,stroke:"#9a2a8a",strokeWidth:1.4}),
  Plot.ruleY(fluidIncl,{y:d=>d[2],x1:d=>d[0]-3.5,x2:d=>d[0]+3.5,stroke:"#9a2a8a",strokeWidth:1.4}),
  Plot.dot(echinoOss,{x:d=>d[0],y:d=>d[1],symbol:"diamond2",r:4.2,fill:"#3bb8d4",stroke:"#5fc8e0",strokeWidth:0.5}),
  Plot.dot([5.17],{x:3,y:d=>d,r:3.2,fill:"#f08a4a"}),
  Plot.arrow([0],{x1:31,y1:5.2,x2:11,y2:5.2,stroke:"#222",strokeWidth:1.2,headLength:6}),
  Plot.rect([0],{x1:-43.5,x2:156.3,y1:3.19,y2:6.72,fill:"none",stroke:RED,strokeWidth:3}),
  Plot.text(["Modern ocean\nvariability -\nechinoderm\nossicles"],{x:37,y:5.21,text:d=>d,textAnchor:"start",fontSize:12.5,fontWeight:"bold",fill:BLUE,lineHeight:1.1}),
  Plot.ruleY([botLegY[0]],{x1:367,x2:411,stroke:"#3aa040",strokeWidth:1.6}),
  Plot.ruleY([botLegY[1]],{x1:367,x2:411,stroke:"#2b2b6b",strokeWidth:1.6,strokeDasharray:"6,4"}),
  Plot.ruleX([389],{y1:botLegY[2]-0.18,y2:botLegY[2]+0.18,stroke:"#9a2a8a",strokeWidth:1.6}),
  Plot.dot([botLegY[3]],{x:389,y:d=>d,symbol:"diamond2",r:4.2,fill:"#3bb8d4",stroke:"#5fc8e0",strokeWidth:0.5}),
  Plot.text(botLegLabels,{x:418,y:(d,i)=>botLegY[i],text:d=>d,textAnchor:"start",fontSize:9.5,fill:"#333"}),
  Plot.axisY({ticks:yTicksBot,tickFormat:d=>d.toFixed(1),tickSize:5,fontSize:12,label:null}),
  Plot.axisX({ticks:[0,100,200,300,400,500],tickFormat:intFmt,tickSize:5,fontSize:12,label:null})
 ]}),270,715);

// ================= Overlay: titles, arrows, legends =================
const ov=d3.create("svg").attr("width",730).attr("height",975).style("position","absolute").style("left","0px").style("top","0px").style("font-family",FONT).style("overflow","visible");
page.appendChild(ov.node());
function label(x,y,parts,{rotate=0,size=11,weight="bold",fill="#222",anchor="middle"}={}){
 const t=ov.append("text").attr("transform",`translate(${x},${y}) rotate(${rotate})`).attr("text-anchor",anchor).attr("font-size",size).attr("font-weight",weight).attr("fill",fill).attr("dy","0.35em");
 let shifted=false;
 for(const p of parts){
  if(typeof p==="string"){const ts=t.append("tspan").text(p);if(shifted){ts.attr("dy",-size*0.3);shifted=false;}}
  else{t.append("tspan").text(p.sub).attr("font-size",size*0.72).attr("dy",size*0.3);shifted=true;}
 }
}
label(6,10,["A"],{size:13});label(6,10,["B"],{size:13});
label(14,115,["Mg:Ca",{sub:"SKELETAL"}," (mol:mol)"],{rotate:-90,size:11});
label(125,236,["Mg:Ca",{sub:"SW"}," (mol:mol)"],{size:11});
label(387,104,["Mg:Ca",{sub:"SW"}," (mol:mol)"],{rotate:-90,size:11});
label(465,243,["Amplification"],{size:13,fill:BLUE});
label(662,242,["Age (Ma)"],{size:17,fill:BLUE});
label(281,366,["Sr:Ca",{sub:"SW"}," (mmol:mol)"],{rotate:-90,size:12.5});
label(281,553,["Mg:Ca",{sub:"SW"}," (mol:mol)"],{rotate:-90,size:12.5});
label(518,700,["Age (Ma)"],{size:13.5});
label(123,272,["Depth (m)"],{size:11});
label(11,400,["Sr:Ca",{sub:"SW"}," (mmol:mol)"],{rotate:-90,size:11});
label(123,483,["Depth (m)"],{size:11});
label(10,602,["Mg:Ca",{sub:"SW"}," (mol:mol)"],{rotate:-90,size:11});
label(279,831,["Mg:Ca",{sub:"SW"}," (mol:mol)"],{rotate:-90,size:13});
label(517,968,["Age (Ma)"],{size:14});
ov.append("line").attr("x1",408).attr("y1",232).attr("x2",319.3).attr("y2",268.3).attr("stroke",BLUE).attr("stroke-width",2);
ov.append("line").attr("x1",528).attr("y1",232).attr("x2",718.3).attr("y2",268.3).attr("stroke",BLUE).attr("stroke-width",2);
function leftArrow(tx,ty){ov.append("polygon").attr("fill",BLUE).attr("points",[[tx,ty],[tx+17,ty-10],[tx+17,ty-5],[tx+39,ty-5],[tx+39,ty+5],[tx+17,ty+5],[tx+17,ty+10]].map(p=>p.join(",")).join(" "));}
leftArrow(223,385.7);leftArrow(224,529.3);
ov.append("polygon").attr("fill",BLUE).attr("points",[[126,710.7],[138.5,723],[133,723],[133,749],[276,749],[276,762],[119,762],[119,723],[113.5,723]].map(p=>p.join(",")).join(" "));
const legSymA=["iapso","sea","up","open","ooup","shallow","coral"];
const legSymB=["deep","glacier","estuary","mud","mangrove","seagrass"];
const legAy=[637.7,645,652.3,659.3,666.3,673,680], legBy=[635.3,642.7,650,657,664,671];
function legSym(k,x,y){
 const c=k==="ooup"?{color:"#2030c0",symbol:"triangle",stroke:"none"}:catBy[k];
 const sym=typeof c.symbol==="string"?({circle:d3.symbolCircle,square:d3.symbolSquare,diamond2:d3.symbolDiamond2,triangle:d3.symbolTriangle})[c.symbol]:c.symbol;
 const r=k==="iapso"?4.2:2.6;
 ov.append("path").attr("transform",`translate(${x},${y})`).attr("d",d3.symbol(sym,r*r*Math.PI)()).attr("fill",c.color).attr("stroke",c.stroke==="none"?null:c.stroke).attr("stroke-width",0.5);
}
legLeftA.forEach((t,i)=>{legSym(legSymA[i],74,legAy[i]);ov.append("text").attr("x",83.3).attr("y",legAy[i]).attr("dy","0.35em").attr("font-size",6.5).attr("fill","#333").text(t);});
legLeftB.forEach((t,i)=>{legSym(legSymB[i],160.7,legBy[i]);ov.append("text").attr("x",170).attr("y",legBy[i]).attr("dy","0.35em").attr("font-size",6.5).attr("fill","#333").text(t);});
</script></body></html>
